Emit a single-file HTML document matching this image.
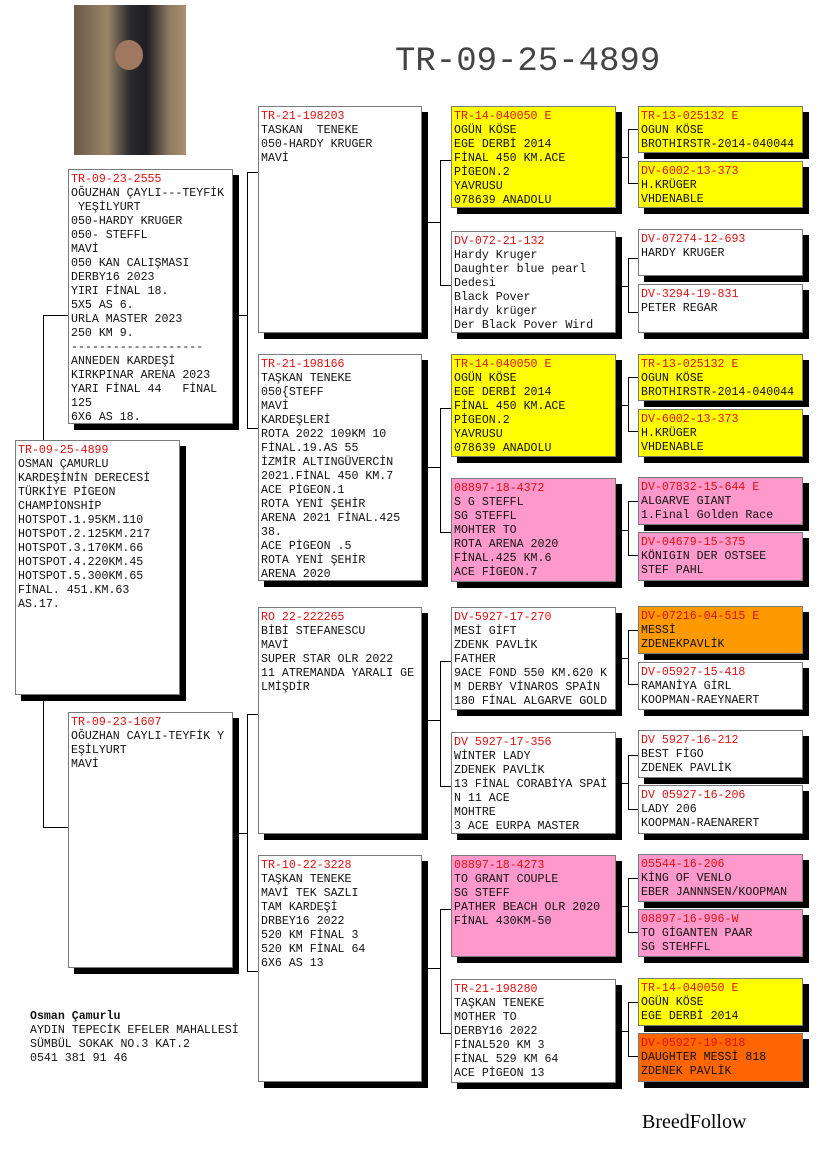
<!DOCTYPE html>
<html><head><meta charset="utf-8"><style>
body{margin:0;width:825px;height:1172px;background:#fff;position:relative;overflow:hidden;font-family:"Liberation Mono","DejaVu Sans Mono",monospace;}
.b{position:absolute;box-sizing:border-box;border:1px solid #7a7a7a;background:#fff;box-shadow:6px 6px 0 #000;font-size:11.6px;line-height:14px;color:#111;padding:3px 2px;white-space:pre;overflow:hidden;}
.r{color:#e01010;}
.y{background:#ffff00}.p{background:#ff99cc}.o{background:#ff9900}.d{background:#ff6600}
.h{position:absolute;height:1px;background:#000}
.v{position:absolute;width:1px;background:#000}
</style></head><body>
<div style="position:absolute;left:74px;top:5px;width:112px;height:150px;background:linear-gradient(90deg,#6b5a48 0%,#9a8468 30%,#2a2a2e 50%,#1e1e22 65%,#8f7a60 85%,#a89070 100%);"></div>
<div style="position:absolute;left:115px;top:40px;width:28px;height:30px;border-radius:50%;background:#a07860"></div>
<div style="position:absolute;left:395px;top:42px;font-size:34px;line-height:40px;color:#444;white-space:pre;">TR-09-25-4899</div>

<!-- lines -->
<div class="v" style="left:43px;top:315px;height:125px"></div>
<div class="h" style="left:43px;top:315px;width:25px"></div>
<div class="v" style="left:43px;top:695px;height:133px"></div>
<div class="h" style="left:43px;top:827px;width:25px"></div>

<div class="h" style="left:233px;top:315px;width:14px"></div>
<div class="v" style="left:247px;top:172px;height:257px"></div>
<div class="h" style="left:247px;top:172px;width:11px"></div>
<div class="h" style="left:247px;top:428px;width:11px"></div>
<div class="h" style="left:233px;top:833px;width:14px"></div>
<div class="v" style="left:247px;top:714px;height:258px"></div>
<div class="h" style="left:247px;top:714px;width:11px"></div>
<div class="h" style="left:247px;top:971px;width:11px"></div>

<!-- gen3->gen4 -->
<div class="v" style="left:440px;top:160px;height:126px"></div><div class="h" style="left:422px;top:222px;width:18px"></div><div class="h" style="left:440px;top:160px;width:11px"></div><div class="h" style="left:440px;top:285px;width:11px"></div>
<div class="v" style="left:440px;top:408px;height:125px"></div><div class="h" style="left:422px;top:467px;width:18px"></div><div class="h" style="left:440px;top:408px;width:11px"></div><div class="h" style="left:440px;top:532px;width:11px"></div>
<div class="v" style="left:440px;top:661px;height:126px"></div><div class="h" style="left:422px;top:720px;width:18px"></div><div class="h" style="left:440px;top:661px;width:11px"></div><div class="h" style="left:440px;top:786px;width:11px"></div>
<div class="v" style="left:440px;top:909px;height:125px"></div><div class="h" style="left:422px;top:968px;width:18px"></div><div class="h" style="left:440px;top:909px;width:11px"></div><div class="h" style="left:440px;top:1033px;width:11px"></div>

<!-- gen4->gen5 -->
<div class="v" style="left:628px;top:129px;height:55px"></div><div class="h" style="left:616px;top:157px;width:12px"></div><div class="h" style="left:628px;top:129px;width:10px"></div><div class="h" style="left:628px;top:183px;width:10px"></div>
<div class="v" style="left:628px;top:258px;height:55px"></div><div class="h" style="left:616px;top:286px;width:12px"></div><div class="h" style="left:628px;top:258px;width:10px"></div><div class="h" style="left:628px;top:312px;width:10px"></div>
<div class="v" style="left:628px;top:377px;height:55px"></div><div class="h" style="left:616px;top:405px;width:12px"></div><div class="h" style="left:628px;top:377px;width:10px"></div><div class="h" style="left:628px;top:431px;width:10px"></div>
<div class="v" style="left:628px;top:501px;height:55px"></div><div class="h" style="left:616px;top:530px;width:12px"></div><div class="h" style="left:628px;top:501px;width:10px"></div><div class="h" style="left:628px;top:555px;width:10px"></div>
<div class="v" style="left:628px;top:630px;height:55px"></div><div class="h" style="left:616px;top:658px;width:12px"></div><div class="h" style="left:628px;top:630px;width:10px"></div><div class="h" style="left:628px;top:684px;width:10px"></div>
<div class="v" style="left:628px;top:755px;height:55px"></div><div class="h" style="left:616px;top:783px;width:12px"></div><div class="h" style="left:628px;top:755px;width:10px"></div><div class="h" style="left:628px;top:809px;width:10px"></div>
<div class="v" style="left:628px;top:878px;height:55px"></div><div class="h" style="left:616px;top:906px;width:12px"></div><div class="h" style="left:628px;top:878px;width:10px"></div><div class="h" style="left:628px;top:932px;width:10px"></div>
<div class="v" style="left:628px;top:1002px;height:55px"></div><div class="h" style="left:616px;top:1031px;width:12px"></div><div class="h" style="left:628px;top:1002px;width:10px"></div><div class="h" style="left:628px;top:1056px;width:10px"></div>

<!-- gen1 -->
<div class="b" style="left:15px;top:440px;width:165px;height:255px"><span class="r">TR-09-25-4899</span>
OSMAN ÇAMURLU
KARDEŞİNİN DERECESİ
TÜRKİYE PİGEON
CHAMPİONSHİP
HOTSPOT.1.95KM.110
HOTSPOT.2.125KM.217
HOTSPOT.3.170KM.66
HOTSPOT.4.220KM.45
HOTSPOT.5.300KM.65
FİNAL. 451.KM.63
AS.17.</div>

<!-- gen2 -->
<div class="b" style="left:68px;top:169px;width:165px;height:255px"><span class="r">TR-09-23-2555</span>
OĞUZHAN ÇAYLI---TEYFİK
 YEŞİLYURT
050-HARDY KRUGER
050- STEFFL
MAVİ
050 KAN CALIŞMASI
DERBY16 2023
YIRI FİNAL 18.
5X5 AS 6.
URLA MASTER 2023
250 KM 9.
-------------------
ANNEDEN KARDEŞİ
KIRKPINAR ARENA 2023
YARI FİNAL 44   FİNAL
125
6X6 AS 18.</div>
<div class="b" style="left:68px;top:712px;width:165px;height:256px"><span class="r">TR-09-23-1607</span>
OĞUZHAN CAYLI-TEYFİK Y
EŞİLYURT
MAVİ</div>

<!-- gen3 -->
<div class="b" style="left:258px;top:106px;width:164px;height:227px"><span class="r">TR-21-198203</span>
TASKAN  TENEKE
050-HARDY KRUGER
MAVİ</div>
<div class="b" style="left:258px;top:354px;width:164px;height:227px"><span class="r">TR-21-198166</span>
TAŞKAN TENEKE
050{STEFF
MAVİ
KARDEŞLERİ
ROTA 2022 109KM 10
FİNAL.19.AS 55
İZMİR ALTINGÜVERCİN
2021.FİNAL 450 KM.7
ACE PİGEON.1
ROTA YENİ ŞEHİR
ARENA 2021 FİNAL.425
38.
ACE PİGEON .5
ROTA YENİ ŞEHİR
ARENA 2020</div>
<div class="b" style="left:258px;top:607px;width:164px;height:227px"><span class="r">RO 22-222265</span>
BİBİ STEFANESCU
MAVİ
SUPER STAR OLR 2022
11 ATREMANDA YARALI GE
LMİŞDİR</div>
<div class="b" style="left:258px;top:855px;width:164px;height:227px"><span class="r">TR-10-22-3228</span>
TAŞKAN TENEKE
MAVİ TEK SAZLI
TAM KARDEŞİ
DRBEY16 2022
520 KM FİNAL 3
520 KM FİNAL 64
6X6 AS 13</div>

<!-- gen4 -->
<div class="b y" style="left:451px;top:106px;width:165px;height:102px"><span class="r">TR-14-040050 E</span>
OGÜN KÖSE
EGE DERBİ 2014
FİNAL 450 KM.ACE
PİGEON.2
YAVRUSU
078639 ANADOLU</div>
<div class="b" style="left:451px;top:231px;width:165px;height:102px"><span class="r">DV-072-21-132</span>
Hardy Kruger
Daughter blue pearl
Dedesi
Black Pover
Hardy krüger
Der Black Pover Wird</div>
<div class="b y" style="left:451px;top:354px;width:165px;height:103px"><span class="r">TR-14-040050 E</span>
OGÜN KÖSE
EGE DERBİ 2014
FİNAL 450 KM.ACE
PİGEON.2
YAVRUSU
078639 ANADOLU</div>
<div class="b p" style="left:451px;top:478px;width:165px;height:104px"><span class="r">08897-18-4372</span>
S G STEFFL
SG STEFFL
MOHTER TO
ROTA ARENA 2020
FİNAL.425 KM.6
ACE FİGEON.7</div>
<div class="b" style="left:451px;top:607px;width:165px;height:103px"><span class="r">DV-5927-17-270</span>
MESİ GİFT
ZDENK PAVLİK
FATHER
9ACE FOND 550 KM.620 K
M DERBY VİNAROS SPAİN
180 FİNAL ALGARVE GOLD</div>
<div class="b" style="left:451px;top:732px;width:165px;height:102px"><span class="r">DV 5927-17-356</span>
WİNTER LADY
ZDENEK PAVLİK
13 FİNAL CORABİYA SPAİ
N 11 ACE
MOHTRE
3 ACE EURPA MASTER</div>
<div class="b p" style="left:451px;top:855px;width:165px;height:102px"><span class="r">08897-18-4273</span>
TO GRANT COUPLE
SG STEFF
PATHER BEACH OLR 2020
FİNAL 430KM-50</div>
<div class="b" style="left:451px;top:979px;width:165px;height:104px"><span class="r">TR-21-198280</span>
TAŞKAN TENEKE
MOTHER TO
DERBY16 2022
FİNAL520 KM 3
FİNAL 529 KM 64
ACE PİGEON 13</div>

<!-- gen5 -->
<div class="b y" style="left:638px;top:106px;width:165px;height:47px"><span class="r">TR-13-025132 E</span>
OGUN KÖSE
BROTHIRSTR-2014-040044</div>
<div class="b y" style="left:638px;top:161px;width:165px;height:47px"><span class="r">DV-6002-13-373</span>
H.KRÜGER
VHDENABLE</div>
<div class="b" style="left:638px;top:229px;width:165px;height:47px"><span class="r">DV-07274-12-693</span>
HARDY KRUGER</div>
<div class="b" style="left:638px;top:284px;width:165px;height:49px"><span class="r">DV-3294-19-831</span>
PETER REGAR</div>
<div class="b y" style="left:638px;top:354px;width:165px;height:47px"><span class="r">TR-13-025132 E</span>
OGUN KÖSE
BROTHIRSTR-2014-040044</div>
<div class="b y" style="left:638px;top:409px;width:165px;height:48px"><span class="r">DV-6002-13-373</span>
H.KRÜGER
VHDENABLE</div>
<div class="b p" style="left:638px;top:477px;width:165px;height:48px"><span class="r">DV-07832-15-644 E</span>
ALGARVE GIANT
1.Final Golden Race</div>
<div class="b p" style="left:638px;top:532px;width:165px;height:49px"><span class="r">DV-04679-15-375</span>
KÖNIGIN DER OSTSEE
STEF PAHL</div>
<div class="b o" style="left:638px;top:606px;width:165px;height:48px"><span class="r">DV-07216-04-515 E</span>
MESSİ
ZDENEKPAVLİK</div>
<div class="b" style="left:638px;top:662px;width:165px;height:48px"><span class="r">DV-05927-15-418</span>
RAMANİYA GİRL
KOOPMAN-RAEYNAERT</div>
<div class="b" style="left:638px;top:730px;width:165px;height:48px"><span class="r">DV 5927-16-212</span>
BEST FİGO
ZDENEK PAVLİK</div>
<div class="b" style="left:638px;top:785px;width:165px;height:49px"><span class="r">DV 05927-16-206</span>
LADY 206
KOOPMAN-RAENARERT</div>
<div class="b p" style="left:638px;top:854px;width:165px;height:48px"><span class="r">05544-16-206</span>
KİNG OF VENLO
EBER JANNNSEN/KOOPMAN</div>
<div class="b p" style="left:638px;top:909px;width:165px;height:48px"><span class="r">08897-16-996-W</span>
TO GİGANTEN PAAR
SG STEHFFL</div>
<div class="b y" style="left:638px;top:978px;width:165px;height:48px"><span class="r">TR-14-040050 E</span>
OGÜN KÖSE
EGE DERBİ 2014</div>
<div class="b d" style="left:638px;top:1033px;width:165px;height:49px"><span class="r">DV-05927-19-818</span>
DAUGHTER MESSİ 818
ZDENEK PAVLİK</div>

<div style="position:absolute;left:30px;top:1010px;font-size:11.6px;line-height:14px;white-space:pre;color:#111;"><b>Osman Çamurlu</b>
AYDIN TEPECİK EFELER MAHALLESİ
SÜMBÜL SOKAK NO.3 KAT.2
0541 381 91 46</div>
<div style="position:absolute;left:642px;top:1111px;font-family:'Liberation Serif',serif;font-size:20px;color:#000;">BreedFollow</div>
</body></html>
